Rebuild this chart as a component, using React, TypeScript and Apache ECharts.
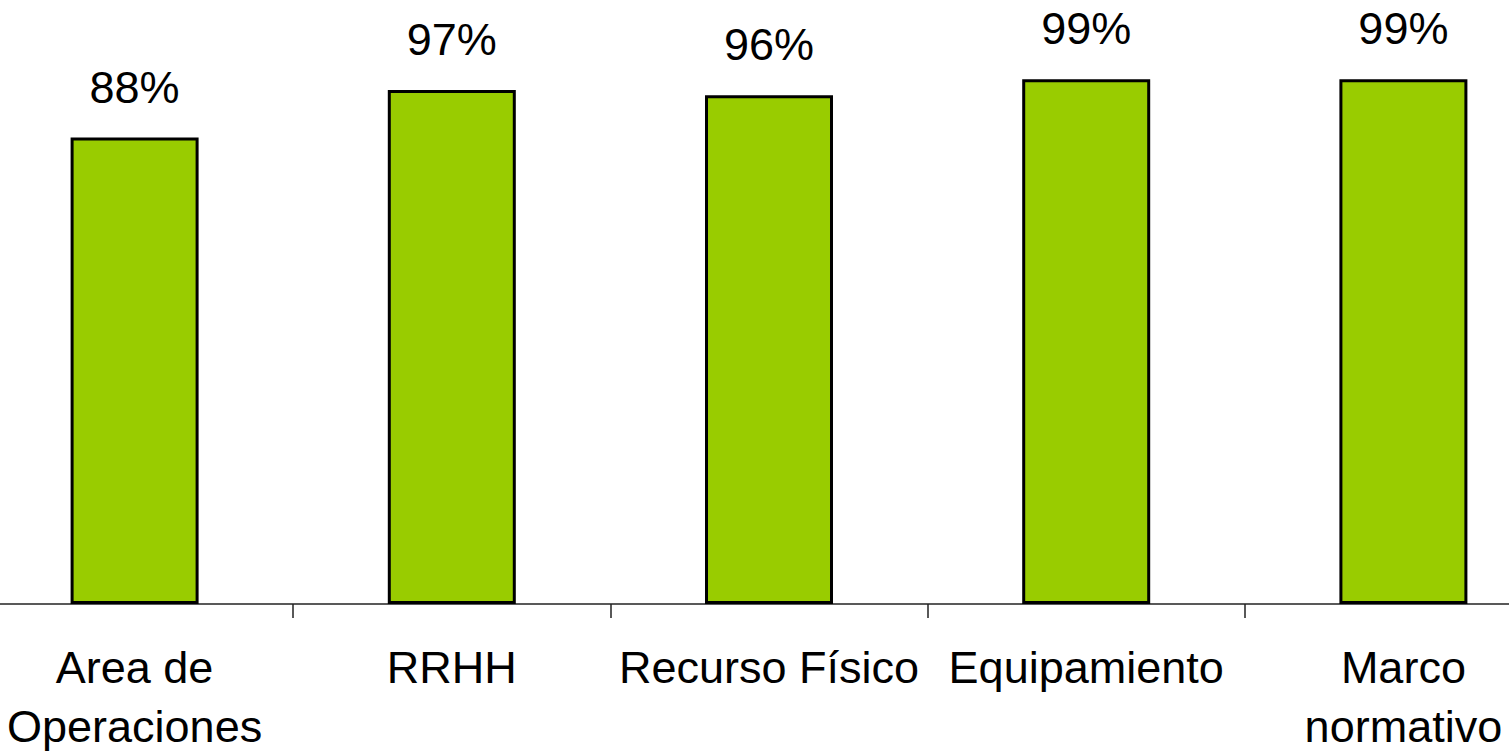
import React, { useEffect, useRef } from "react";
import * as echarts from "echarts";

const categories = ["Area de\nOperaciones", "RRHH", "Recurso Físico", "Equipamiento", "Marco\nnormativo"];
const values = [88, 97, 96, 99, 99];

export default function App() {
  const ref = useRef<HTMLDivElement>(null);
  useEffect(() => {
    if (!ref.current) return;
    const chart = echarts.init(ref.current, null, { renderer: "svg" });
    chart.setOption({
      animation: false,
      backgroundColor: "#ffffff",
      grid: { left: -24, right: -53, top: 74, bottom: 149, containLabel: false, outerBoundsMode: "none" },
      xAxis: {
        type: "category",
        data: categories,
        axisLine: { show: true, lineStyle: { color: "#222", width: 1.5 } },
        axisTick: { show: true, length: 14, interval: 0, lineStyle: { color: "#222", width: 1.5 } },
        axisLabel: {
          interval: 0,
          fontFamily: "Liberation Sans, Arial, sans-serif",
          fontSize: 45,
          color: "#000",
          lineHeight: 59,
          margin: 34,
          verticalAlign: "top",
          hideOverlap: false,
        },
      },
      yAxis: {
        type: "value",
        min: 0,
        max: 100,
        show: false,
        splitLine: { show: false },
      },
      series: [
        {
          type: "bar",
          data: values,
          barWidth: 128,
          itemStyle: { color: "#99CC00", borderColor: "#000", borderWidth: 3 },
          label: {
            show: true,
            position: "top",
            distance: 28,
            formatter: "{c}%",
            fontFamily: "Liberation Sans, Arial, sans-serif",
            fontSize: 45,
            color: "#000",
          },
        },
      ],
    });
    return () => chart.dispose();
  }, []);
  return <div ref={ref} style={{ position: "fixed", left: 0, top: 0, width: 1509, height: 753 }} />;
}
